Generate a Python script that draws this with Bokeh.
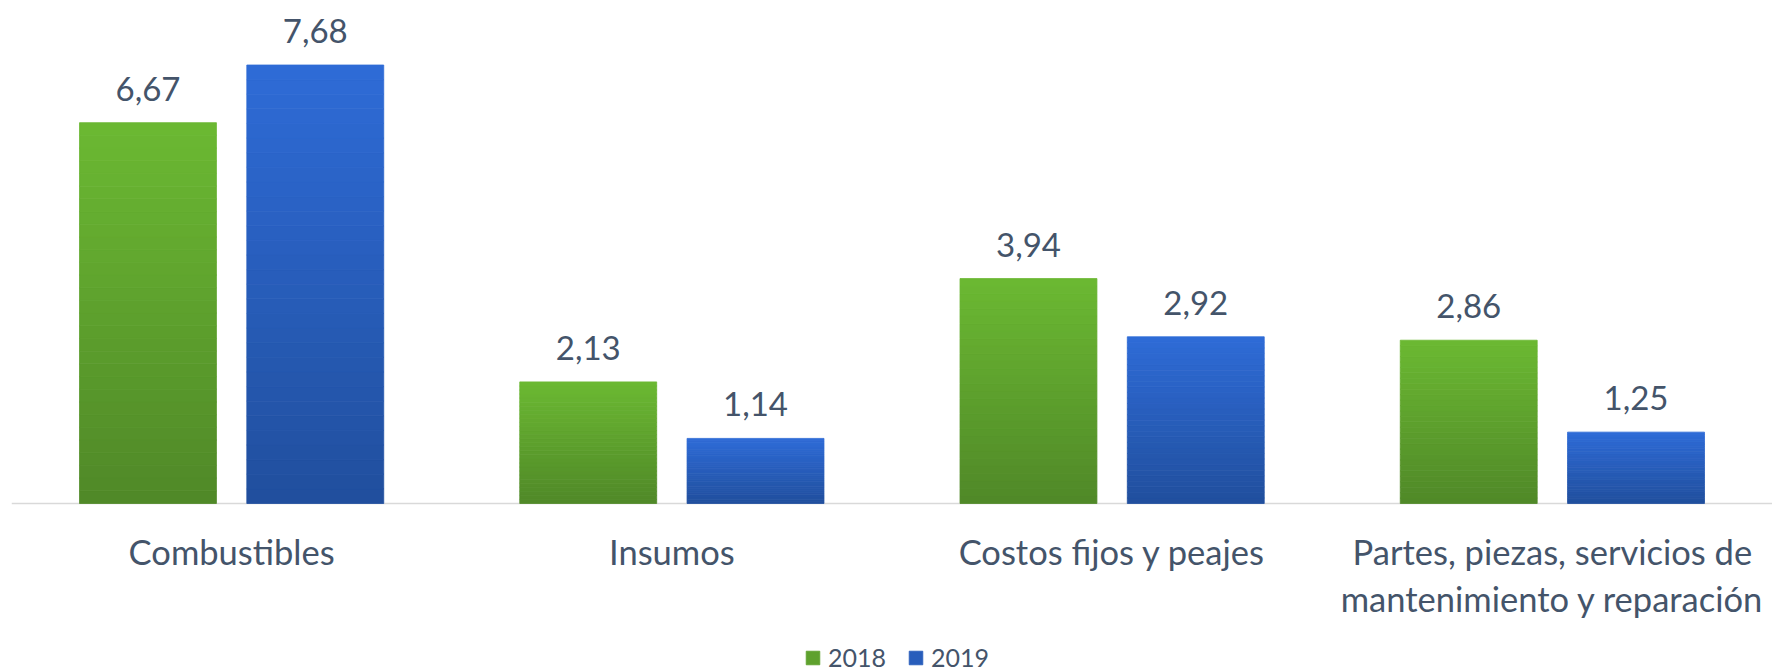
from bokeh.plotting import figure
from bokeh.models import FactorRange, Range1d, ColumnDataSource, Legend, LegendItem
from bokeh.transform import dodge
from bokeh.core.properties import value
from bokeh.embed import file_html
from bokeh.resources import INLINE

categories = ["Combustibles", "Insumos", "Costos fijos y peajes",
              "Partes, piezas, servicios de\nmantenimiento y reparación"]
series_names = ["2018", "2019"]
values_2018 = [6.67, 2.13, 3.94, 2.86]
values_2019 = [7.68, 1.14, 2.92, 1.25]
labels_2018 = ["6,67", "2,13", "3,94", "2,86"]
labels_2019 = ["7,68", "1,14", "2,92", "1,25"]

FONT = "Lato"
TEXT_COLOR = "#44546A"
GREEN_TOP, GREEN_BOT = (107, 184, 50), (80, 137, 40)
BLUE_TOP, BLUE_BOT = (46, 107, 214), (33, 79, 158)
N_SLICES = 30

p = figure(width=1772, height=672, x_range=FactorRange(*categories, range_padding=0),
           y_range=Range1d(-2.96, 8.81), output_backend="svg", toolbar_location=None,
           min_border_left=11, min_border_right=0, min_border_top=0, min_border_bottom=0)
p.outline_line_color = None
p.xgrid.visible = False
p.ygrid.visible = False
p.yaxis.visible = False
p.xaxis.visible = False
p.background_fill_color = "white"
p.border_fill_color = "white"

# baseline (category axis line)
p.hspan(y=[0], line_color="#D9D9D9", line_width=1.5)

def hexcol(c):
    return "#%02x%02x%02x" % tuple(int(round(x)) for x in c)

def gradient_source(vals, top_c, bot_c):
    data = dict(cat=[], bottom=[], top=[], color=[])
    for cat, v in zip(categories, vals):
        for k in range(N_SLICES):
            t = k / (N_SLICES - 1)
            col = [b + (tp - b) * t for b, tp in zip(bot_c, top_c)]
            data["cat"].append(cat)
            data["bottom"].append(v * k / N_SLICES)
            data["top"].append(v * (k + 1) / N_SLICES)
            data["color"].append(hexcol(col))
    return ColumnDataSource(data)

OFF = 0.19
W = 0.311
r18 = p.vbar(x=dodge("cat", -OFF, range=p.x_range), bottom="bottom", top="top", width=W,
             fill_color="color", line_color="color", line_width=0.8,
             source=gradient_source(values_2018, GREEN_TOP, GREEN_BOT))
r19 = p.vbar(x=dodge("cat", OFF, range=p.x_range), bottom="bottom", top="top", width=W,
             fill_color="color", line_color="color", line_width=0.8,
             source=gradient_source(values_2019, BLUE_TOP, BLUE_BOT))

for vals, labs, off in [(values_2018, labels_2018, -OFF), (values_2019, labels_2019, OFF)]:
    src = ColumnDataSource(dict(cat=categories, v=vals, lab=labs))
    p.text(x=dodge("cat", off, range=p.x_range), y="v", text="lab", source=src,
           text_align="center", text_baseline="alphabetic", y_offset=-34,
           text_font=value(FONT), text_font_size="33px", text_color=TEXT_COLOR)

# category labels under the baseline
cat_src = ColumnDataSource(dict(cat=categories, y=[0] * len(categories)))
p.text(x="cat", y="y", text="cat", source=cat_src, text_align="center", text_baseline="top",
       y_offset=27, text_font=value(FONT), text_font_size="34.5px", text_color=TEXT_COLOR,
       text_line_height=1.16)

mid = N_SLICES // 2
legend = Legend(items=[LegendItem(label=series_names[0], renderers=[r18], index=mid),
                       LegendItem(label=series_names[1], renderers=[r19], index=mid)],
                orientation="horizontal", location=(793, 0),
                glyph_width=17, glyph_height=17, label_standoff=7, spacing=21,
                padding=0, margin=0, border_line_color=None, background_fill_alpha=0,
                label_text_font=FONT, label_text_font_size="25px", label_text_color=TEXT_COLOR)
p.add_layout(legend, "center")

open("out.html", "w").write(file_html(p, INLINE))
